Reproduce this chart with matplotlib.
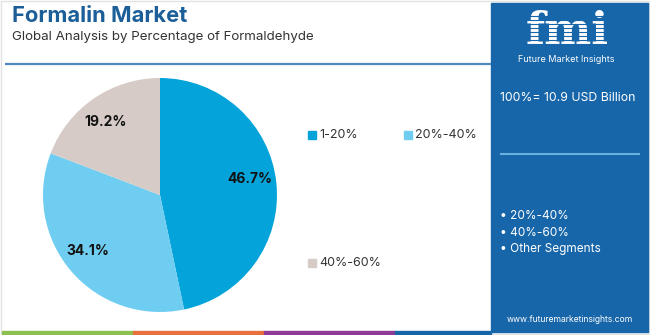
import numpy as np
import matplotlib.pyplot as plt
from matplotlib.patches import Rectangle

plt.rcParams['font.family'] = ['Inter', 'DejaVu Sans']

# data
segments = ['1-20%', '20%-40%', '40%-60%']
shares = [46.7, 34.1, 19.2]
colors = ['#04a3da', '#6fcdf1', '#d6cbc6']
label_angles = [10, -142, 127]   # where the value labels sit (deg)
total_text = '100%= 10.9 USD Billion'
other_segments = ['20%-40%', '40%-60%', 'Other Segments']

W, H = 650, 335
fig = plt.figure(figsize=(W / 100, H / 100), dpi=100)
fig.patch.set_facecolor('white')

# background axes in pixel coordinates
bg = fig.add_axes([0, 0, 1, 1])
bg.set_xlim(0, W)
bg.set_ylim(H, 0)
bg.axis('off')

bg.add_patch(Rectangle((1, 1), W - 2, H - 2, fill=False, ec='#e2e2e2', lw=1))

bg.text(12, 16, 'Formalin Market', fontsize=15.8, fontweight='bold',
        color='#1b5e98', va='center', ha='left')
bg.text(12, 37, 'Global Analysis by Percentage of Formaldehyde', fontsize=9.6,
        color='#333333', va='center', ha='left')
bg.plot([5, 491], [64, 64], color='#4f88bb', lw=1.6, solid_capstyle='butt')

# right panel
bg.add_patch(Rectangle((491, 3), 157, 329, color='#1766a9', zorder=1))
bg.text(567, 44, 'fmi', fontsize=32, fontweight='bold', family='DejaVu Serif',
        color='white', ha='center', va='baseline', zorder=3)
for yy in range(16, 46, 4):
    bg.plot([520, 614], [yy, yy], color='#1766a9', lw=0.8, zorder=4)
bg.text(566, 60, 'Future Market Insights', fontsize=6.5, color='white',
        ha='center', va='center', zorder=3)
bg.text(568, 98, total_text, fontsize=8.8, color='white', ha='center',
        va='center', zorder=3)
bg.plot([501, 639], [154, 154], color='#6ab0e0', lw=1.5, zorder=3)
for i, s in enumerate(other_segments):
    bg.text(500, 216 + i * 16.5, '• ' + s, fontsize=8.5, color='white',
            ha='left', va='center', zorder=3)
bg.text(570, 320, 'www.futuremarketinsights.com', fontsize=6.2, color='white',
        ha='center', va='center', zorder=3)

# bottom stripe
stripe = [('#8cc152', 2, 133), ('#e8703c', 133, 264), ('#8f3a97', 264, 395),
          ('#1766a9', 395, 491)]
for c, x0, x1 in stripe:
    bg.add_patch(Rectangle((x0, 331), x1 - x0, 3, color=c, zorder=2))

# pie
cx, cy, r = 160, 195, 117
ax = fig.add_axes([(cx - r) / W, (H - cy - r) / H, 2 * r / W, 2 * r / H])
wedges, _, autotexts = ax.pie(shares, colors=colors, startangle=90,
                              counterclock=False, autopct='%.1f%%',
                              pctdistance=0.78,
                              textprops=dict(fontsize=10, fontweight='bold',
                                             color='#111111'))
for t, a in zip(autotexts, label_angles):
    rad = np.deg2rad(a)
    t.set_position((0.78 * np.cos(rad), 0.78 * np.sin(rad)))
ax.set_xlim(-1, 1)
ax.set_ylim(-1, 1)
ax.set_aspect('auto')
ax.axis('off')

# legend
leg_pos = [(312, 135), (408, 135), (312, 263)]
for (lx, ly), lab, c in zip(leg_pos, segments, colors):
    bg.add_patch(Rectangle((lx - 4, ly - 4), 8, 8, color=c))
    bg.text(lx + 7, ly, lab, fontsize=9, color='#333333', ha='left',
            va='center')

fig.savefig('out.png', dpi=100)
